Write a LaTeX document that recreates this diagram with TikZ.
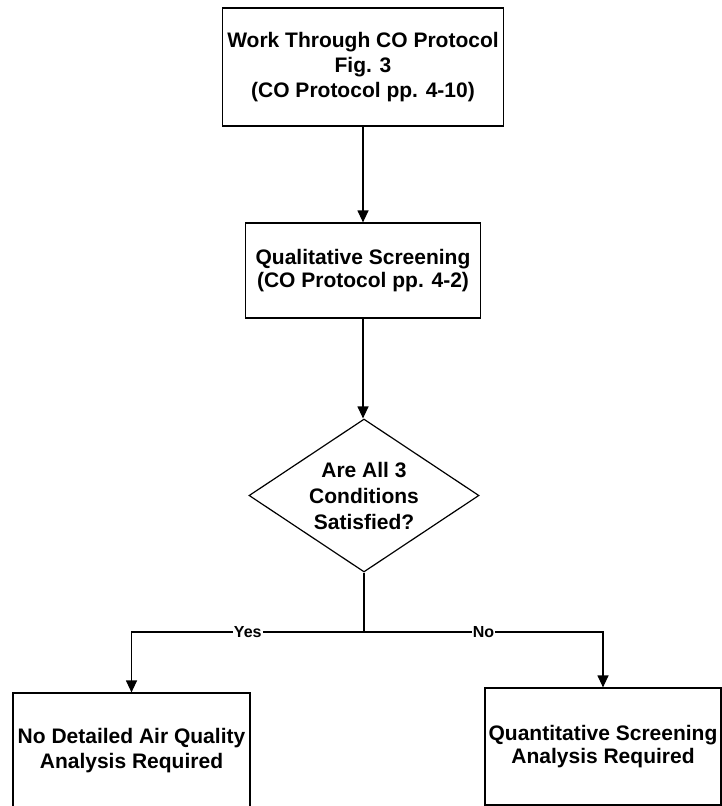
\documentclass[tikz,border=0pt]{standalone}
\usepackage{fontspec}
\setmainfont{Liberation Sans}
\usetikzlibrary{shapes.geometric,arrows.meta}
\begin{document}
\begin{tikzpicture}[x=1pt,y=-1pt,
  box/.style={draw,line width=1.2pt,align=center,inner sep=0pt,
    font=\fontsize{21}{25}\selectfont\bfseries},
  decision/.style={diamond,draw,line width=1.2pt,align=center,inner sep=0pt,
    shape aspect=1.5,minimum width=230pt,minimum height=153pt,
    font=\fontsize{21}{26}\selectfont\bfseries},
  lbl/.style={fill=white,inner sep=1pt,font=\fontsize{16}{18}\selectfont\bfseries},
  conn/.style={line width=1.2pt},
  arr/.style={conn,-{Triangle[length=12pt,width=11pt]}}]
\useasboundingbox (0,0) rectangle (722,806);
\node[box,minimum width=281pt,minimum height=118pt] (b1) at (363,67)
  {Work Through CO Protocol\\Fig. 3\\(CO Protocol pp. 4-10)};
\node[box,minimum width=235pt,minimum height=95pt,
  font=\fontsize{21}{23}\selectfont\bfseries] (b2) at (363,270.5)
  {Qualitative Screening\\(CO Protocol pp. 4-2)};
\node[decision] (d) at (364,495.5) {Are All 3\\Conditions\\Satisfied?};
\node[box,minimum width=237pt,minimum height=115pt] (b3) at (131.5,750.5)
  {No Detailed Air Quality\\Analysis Required};
\node[box,minimum width=236pt,minimum height=117pt,
  font=\fontsize{21}{23}\selectfont\bfseries] (b4) at (603,746.5)
  {Quantitative Screening\\Analysis Required};
\coordinate (j) at (364,632);
\draw[arr] (b1.south) -- (b2.north);
\draw[arr] (b2.south) -- (b2.south |- d.north);
\draw[conn] (d.south) -- (j);
\draw[arr] (j) -- node[lbl]{Yes} (b3.north |- j) -- (b3.north);
\draw[arr] (j) -- node[lbl]{No} (b4.north |- j) -- (b4.north);
\end{tikzpicture}
\end{document}
